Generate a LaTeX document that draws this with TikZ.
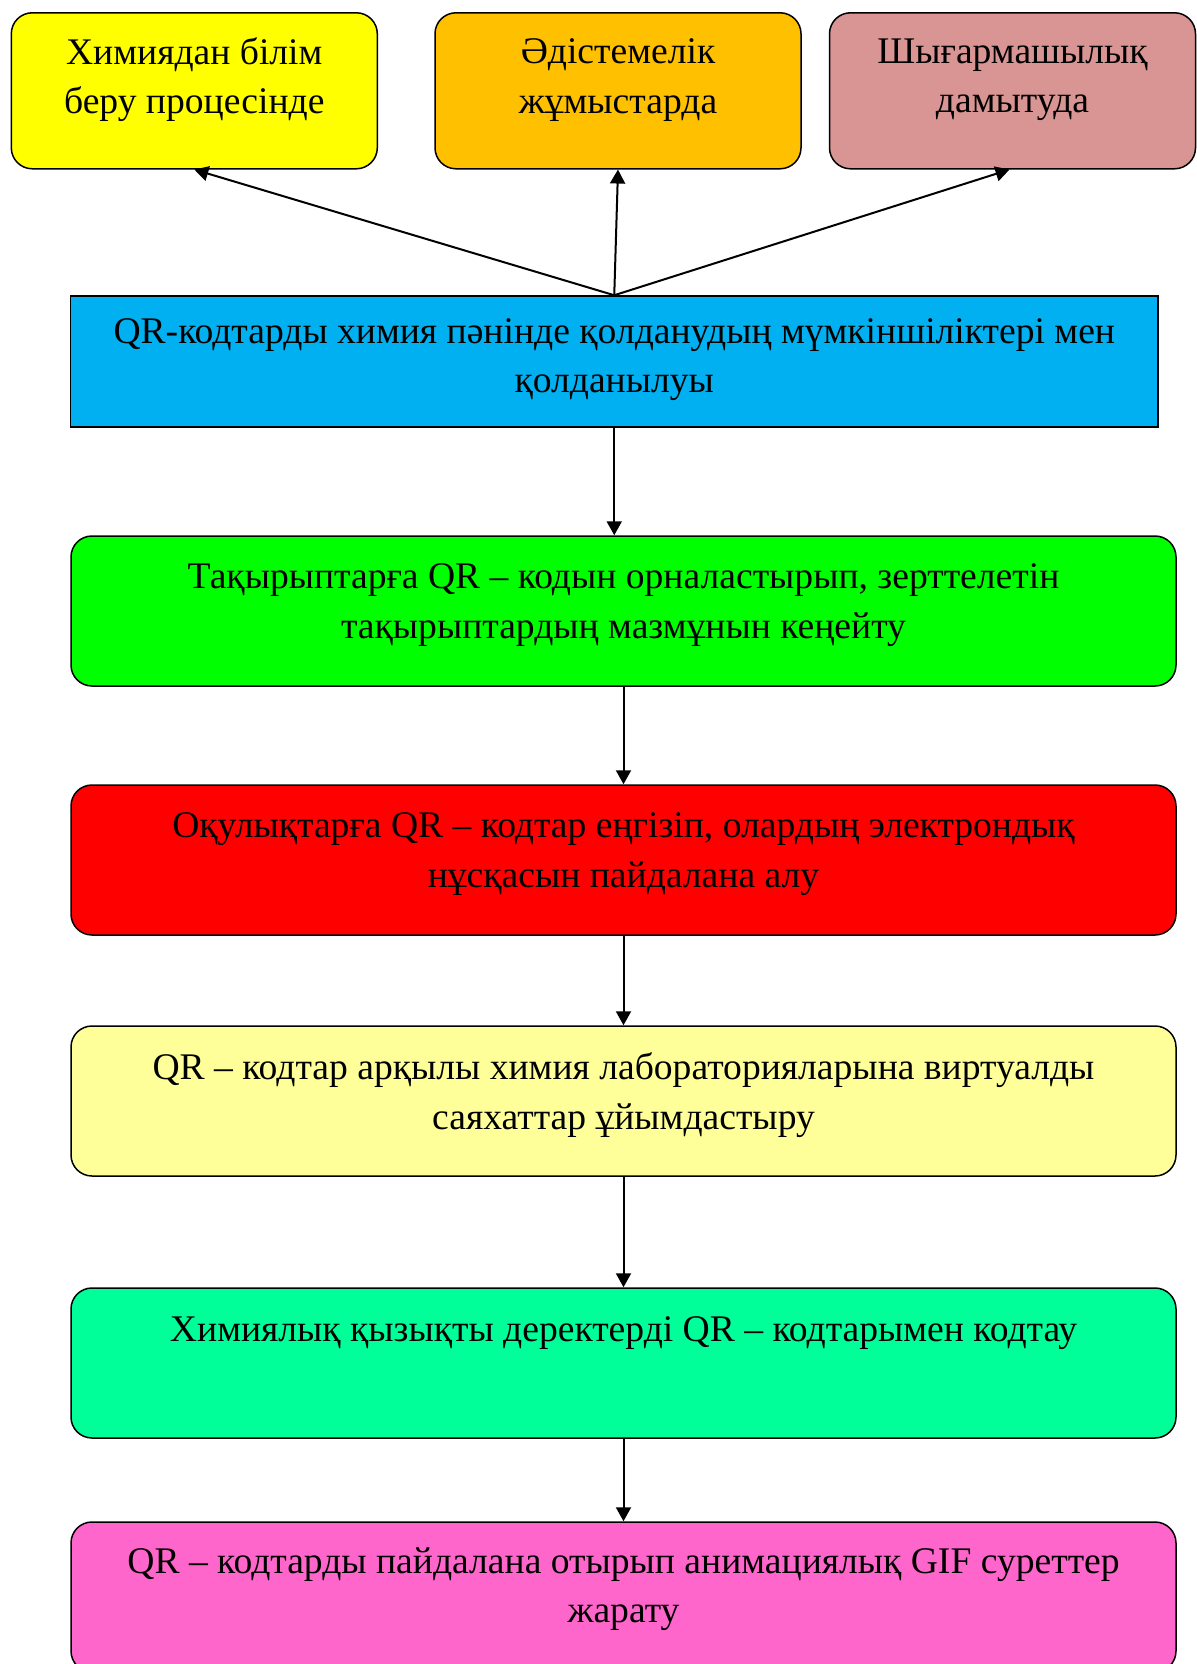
\documentclass[tikz,border=0pt]{standalone}
\usepackage{fontspec}
\setmainfont{Liberation Serif}
\usetikzlibrary{arrows.meta}

\definecolor{cYellow}{HTML}{FFFF00}
\definecolor{cOrange}{HTML}{FFC000}
\definecolor{cRose}{HTML}{D99594}
\definecolor{cBlue}{HTML}{00B0F0}
\definecolor{cGreen}{HTML}{00FF00}
\definecolor{cRed}{HTML}{FF0000}
\definecolor{cPale}{HTML}{FFFF99}
\definecolor{cMint}{HTML}{00FF99}
\definecolor{cPink}{HTML}{FF66CC}

\tikzset{
  boxbase/.style={draw=black, line width=0.75pt, inner sep=0pt},
  smallbox/.style={boxbase, rounded corners=10.5pt, minimum width=183pt, minimum height=78pt},
  widebox/.style={boxbase, rounded corners=10.5pt, minimum width=552.5pt, minimum height=75pt},
  headbox/.style={boxbase, minimum width=543.75pt, minimum height=65.5pt},
  txt/.style={inner sep=0pt, align=center, font=\fontsize{18.8}{24.8}\selectfont},
  arr/.style={line width=1pt, -{Triangle[length=7pt,width=7.5pt]}}
}

\begin{document}
\begin{tikzpicture}[x=0.5pt, y=-0.5pt]
\useasboundingbox (0,0) rectangle (1197,1664);
\clip (0,0) rectangle (1197,1664);

% upper row of rounded boxes
\node[smallbox, fill=cYellow] (b1) at (194.3,90.8) {};
\node[smallbox, fill=cOrange] (b2) at (618,90.8) {};
\node[smallbox, fill=cRose]   (b3) at (1012.5,90.8) {};
\node[txt] (t1) at ([yshift=5.5pt]b1.center) {Химиядан білім\\беру процесінде};
\node[txt] (t2) at ([yshift=5.5pt]b2.center) {Әдістемелік\\жұмыстарда};
\node[txt] (t3) at ([yshift=5.5pt]b3.center) {Шығармашылық\\дамытуда};

% central heading box
\node[headbox, fill=cBlue] (hd) at (614.25,361.5) {};
\node[txt] (thd) at ([yshift=0.9pt]hd.center) {QR-кодтарды химия пәнінде қолданудың мүмкіншіліктері мен\\қолданылуы};

% chain of application boxes
\node[widebox, fill=cGreen] (s1) at (623.5,611) {};
\node[widebox, fill=cRed]   (s2) at (623.5,860) {};
\node[widebox, fill=cPale]  (s3) at (623.5,1101) {};
\node[widebox, fill=cMint]  (s4) at (623.5,1363) {};
\node[widebox, fill=cPink]  (s5) at (623.5,1597) {};

\node[txt] (ts1) at ([yshift=2.9pt]s1.center) {Тақырыптарға QR – кодын орналастырып, зерттелетін\\тақырыптардың мазмұнын кеңейту};
\node[txt] (ts2) at ([yshift=2.9pt]s2.center) {Оқулықтарға QR – кодтар еңгізіп, олардың электрондық\\нұсқасын пайдалана алу};
\node[txt] (ts3) at ([yshift=2.9pt]s3.center) {QR – кодтар арқылы химия лабораторияларына виртуалды\\саяхаттар ұйымдастыру};
\node[txt] (ts4) at ([yshift=14.9pt]s4.center) {Химиялық қызықты деректерді QR – кодтарымен кодтау};
\node[txt] (ts5) at ([yshift=3.9pt]s5.center) {QR – кодтарды пайдалана отырып анимациялық GIF суреттер\\жарату};

% connectors
\draw[arr] (hd.north) -- (b1.south);
\draw[arr] (hd.north) -- (b2.south);
\draw[arr] (hd.north) -- ([xshift=-1.5pt]b3.south);
\draw[arr] (hd.south) -- (hd.south |- s1.north);
\draw[arr] (s1.south) -- (s2.north);
\draw[arr] (s2.south) -- (s3.north);
\draw[arr] (s3.south) -- (s4.north);
\draw[arr] (s4.south) -- (s5.north);
\end{tikzpicture}
\end{document}
